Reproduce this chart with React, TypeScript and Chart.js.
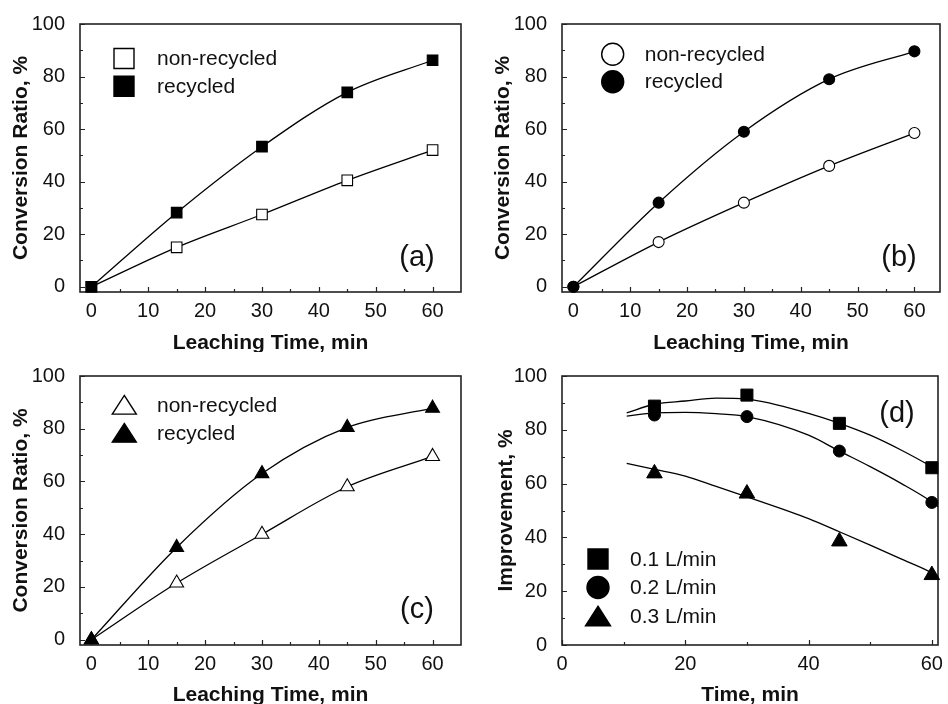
import React, { useEffect, useRef } from "react";
import { Chart, registerables } from "chart.js";
Chart.register(...registerables);

// ---------- data ----------
const TIME = [0, 15, 30, 45, 60];
const A_NONREC = [0, 15, 27.5, 40.5, 52];
const A_REC = [0, 28.2, 53.3, 74, 86.2];
const B_NONREC = [0, 17, 32, 46, 58.5];
const B_REC = [0, 32, 59, 79, 89.6];
const C_NONREC = [0, 21.5, 40, 58, 69.5];
const C_REC = [0, 35, 63, 80.5, 87.8];

const D_TIME = [15, 30, 45, 60];
const D_01 = [88.8, 92.9, 82.4, 65.9];
const D_02 = [85.5, 84.9, 72.1, 53.0];
const D_03 = [63.8, 56.3, 38.5, 26];

const FIT_X = [10.5, 15, 20, 25, 30, 40, 45, 50, 55, 60, 61];
const FIT_01 = [86.3, 89.5, 90.7, 91.8, 91.4, 86.1, 82.4, 78, 72.5, 66.3, 65];
const FIT_02 = [85.1, 86.3, 86.5, 86, 84.9, 78, 72.1, 66.3, 60.1, 53.2, 51.4];
const FIT_03 = [67.5, 65.3, 62.8, 59, 55.1, 47, 42.1, 37.1, 32, 26.8, 25.3];

const LEACH_X_TICKS = [0, 10, 20, 30, 40, 50, 60];
const LEACH_X_MINOR = [5, 15, 25, 35, 45, 55];
const TIME_X_TICKS = [0, 20, 40, 60];
const TIME_X_MINOR = [10, 30, 50];
const Y_TICKS = [0, 20, 40, 60, 80, 100];
const Y_MINOR = [10, 30, 50, 70, 90];

const LEGEND_ABC = ["non-recycled", "recycled"];
const LEGEND_D = ["0.1 L/min", "0.2 L/min", "0.3 L/min"];

const FONT = "'Liberation Sans', Arial, Helvetica, sans-serif";
const INK = "#111";

const pts = (xs: number[], ys: number[]) => xs.map((x, i) => ({ x, y: ys[i] }));

type Shape = "rect" | "circle" | "triangle";

function drawShape(ctx: CanvasRenderingContext2D, shape: Shape, cx: number, cy: number, w: number, filled: boolean) {
  ctx.beginPath();
  if (shape === "rect") ctx.rect(cx - w / 2, cy - w / 2, w, w);
  else if (shape === "circle") ctx.arc(cx, cy, w / 2, 0, Math.PI * 2);
  else {
    const h = w * 0.78;
    ctx.moveTo(cx, cy - h / 2);
    ctx.lineTo(cx + w / 2, cy + h / 2);
    ctx.lineTo(cx - w / 2, cy + h / 2);
    ctx.closePath();
  }
  ctx.fillStyle = filled ? "#000" : "#fff";
  ctx.fill();
  ctx.lineWidth = 1.4;
  ctx.strokeStyle = "#000";
  ctx.stroke();
}

type Panel = {
  left: number; top: number; w: number; h: number;
  pad: { left: number; top: number; right: number; bottom: number };
  yWidth: number; xHeight: number;
  xMin: number; xMax: number; yMin: number; yMax: number;
  xTicks: number[]; xMinor: number[];
  xTitle: string; yTitle: string; yTitlePad: number;
  datasets: any[];
  legend: { shape: Shape; filled: boolean; text: string; size: number }[];
  legendX: number; legendY: number; legendDy: number; legendTextX: number;
  label: string; labelX: number; labelY: number;
};

function lineDs(data: { x: number; y: number }[], shape: string, filled: boolean, r: number) {
  return {
    data,
    showLine: true,
    borderColor: "#000",
    borderWidth: 1.3,
    cubicInterpolationMode: "monotone",
    pointStyle: shape,
    pointRadius: r,
    pointBackgroundColor: filled ? "#000" : "#fff",
    pointBorderColor: "#000",
    pointBorderWidth: 1.1,
    clip: false,
  };
}
function markerDs(data: { x: number; y: number }[], shape: string, r: number) {
  return {
    data,
    showLine: false,
    pointStyle: shape,
    pointRadius: r,
    pointBackgroundColor: "#000",
    pointBorderColor: "#000",
    pointBorderWidth: 1,
    clip: false,
  };
}
function fitDs(data: { x: number; y: number }[]) {
  return {
    data,
    showLine: true,
    borderColor: "#000",
    borderWidth: 1.3,
    cubicInterpolationMode: "monotone",
    pointRadius: 0,
  };
}

const PANELS: Panel[] = [
  {
    left: 0, top: 0, w: 474, h: 352,
    pad: { left: 0, top: 24, right: 13, bottom: 0 }, yWidth: 80, xHeight: 60,
    xMin: -2, xMax: 65, yMin: -2, yMax: 100,
    xTicks: LEACH_X_TICKS, xMinor: LEACH_X_MINOR,
    xTitle: "Leaching Time, min", yTitle: "Conversion Ratio, %", yTitlePad: 9,
    datasets: [
      lineDs(pts(TIME, A_REC), "rect", true, 7.5),
      lineDs(pts(TIME, A_NONREC), "rect", false, 7.5),
    ],
    legend: [
      { shape: "rect", filled: false, text: LEGEND_ABC[0], size: 20 },
      { shape: "rect", filled: true, text: LEGEND_ABC[1], size: 20 },
    ],
    legendX: 44, legendY: 34.5, legendDy: 27.7, legendTextX: 77,
    label: "(a)", labelX: 337, labelY: 234,
  },
  {
    left: 474, top: 0, w: 474, h: 352,
    pad: { left: 0, top: 24, right: 8, bottom: 0 }, yWidth: 88, xHeight: 60,
    xMin: -2, xMax: 64.5, yMin: -2, yMax: 100,
    xTicks: LEACH_X_TICKS, xMinor: LEACH_X_MINOR,
    xTitle: "Leaching Time, min", yTitle: "Conversion Ratio, %", yTitlePad: 17,
    datasets: [
      lineDs(pts(TIME, B_REC), "circle", true, 5.5),
      lineDs(pts(TIME, B_NONREC), "circle", false, 5.5),
    ],
    legend: [
      { shape: "circle", filled: false, text: LEGEND_ABC[0], size: 22 },
      { shape: "circle", filled: true, text: LEGEND_ABC[1], size: 22 },
    ],
    legendX: 50.7, legendY: 30.3, legendDy: 27.4, legendTextX: 82.7,
    label: "(b)", labelX: 337, labelY: 234,
  },
  {
    left: 0, top: 352, w: 474, h: 352,
    pad: { left: 0, top: 24, right: 13, bottom: 0 }, yWidth: 80, xHeight: 59,
    xMin: -2, xMax: 65, yMin: -2, yMax: 100,
    xTicks: LEACH_X_TICKS, xMinor: LEACH_X_MINOR,
    xTitle: "Leaching Time, min", yTitle: "Conversion Ratio, %", yTitlePad: 9,
    datasets: [
      lineDs(pts(TIME, C_REC), "triangle", true, 8),
      lineDs(pts(TIME, C_NONREC), "triangle", false, 8),
    ],
    legend: [
      { shape: "triangle", filled: false, text: LEGEND_ABC[0], size: 24 },
      { shape: "triangle", filled: true, text: LEGEND_ABC[1], size: 24 },
    ],
    legendX: 44.3, legendY: 28.8, legendDy: 28, legendTextX: 77,
    label: "(c)", labelX: 337, labelY: 234,
  },
  {
    left: 474, top: 352, w: 474, h: 352,
    pad: { left: 0, top: 24, right: 6, bottom: 0 }, yWidth: 88, xHeight: 59,
    xMin: 0, xMax: 61, yMin: 0, yMax: 100,
    xTicks: TIME_X_TICKS, xMinor: TIME_X_MINOR,
    xTitle: "Time, min", yTitle: "Improvement, %", yTitlePad: 19.5,
    datasets: [
      fitDs(pts(FIT_X, FIT_01)),
      fitDs(pts(FIT_X, FIT_02)),
      fitDs(pts(FIT_X, FIT_03)),
      markerDs(pts(D_TIME, D_01), "rect", 8.5),
      markerDs(pts(D_TIME, D_02), "circle", 6),
      markerDs(pts(D_TIME, D_03), "triangle", 9),
    ],
    legend: [
      { shape: "rect", filled: true, text: LEGEND_D[0], size: 20 },
      { shape: "circle", filled: true, text: LEGEND_D[1], size: 22 },
      { shape: "triangle", filled: true, text: LEGEND_D[2], size: 25 },
    ],
    legendX: 36, legendY: 183, legendDy: 28.5, legendTextX: 68,
    label: "(d)", labelX: 335, labelY: 38,
  },
];

function makePlugin(p: Panel) {
  return {
    id: "panelDecor",
    beforeDatasetsDraw(chart: any) {
      const ctx: CanvasRenderingContext2D = chart.ctx;
      const { left, right, top, bottom } = chart.chartArea;
      const xs = chart.scales.x;
      const ys = chart.scales.y;
      ctx.save();
      ctx.strokeStyle = "#222";
      ctx.lineWidth = 1.2;
      ctx.beginPath();
      p.xTicks.forEach((v) => {
        const px = Math.round(xs.getPixelForValue(v)) + 0.5;
        ctx.moveTo(px, bottom); ctx.lineTo(px, bottom - 5);
      });
      p.xMinor.forEach((v) => {
        const px = Math.round(xs.getPixelForValue(v)) + 0.5;
        ctx.moveTo(px, bottom); ctx.lineTo(px, bottom - 3);
      });
      Y_TICKS.forEach((v) => {
        const py = Math.round(ys.getPixelForValue(v)) + 0.5;
        ctx.moveTo(left, py); ctx.lineTo(left + 5, py);
      });
      Y_MINOR.forEach((v) => {
        const py = Math.round(ys.getPixelForValue(v)) + 0.5;
        ctx.moveTo(left, py); ctx.lineTo(left + 3, py);
      });
      ctx.stroke();
      ctx.lineWidth = 1.6;
      ctx.strokeStyle = "#222";
      ctx.strokeRect(left, top, right - left, bottom - top);
      ctx.restore();
    },
    afterDraw(chart: any) {
      const ctx: CanvasRenderingContext2D = chart.ctx;
      const { left, top } = chart.chartArea;
      ctx.save();
      p.legend.forEach((it, i) => {
        const cy = top + p.legendY + i * p.legendDy;
        drawShape(ctx, it.shape, left + p.legendX, cy, it.size, it.filled);
        ctx.fillStyle = INK;
        ctx.font = `21px ${FONT}`;
        ctx.textAlign = "left";
        ctx.textBaseline = "middle";
        ctx.fillText(it.text, left + p.legendTextX, cy + 1);
      });
      ctx.font = `29px ${FONT}`;
      ctx.textAlign = "center";
      ctx.textBaseline = "middle";
      ctx.fillStyle = INK;
      ctx.fillText(p.label, left + p.labelX, top + p.labelY);
      ctx.restore();
    },
  };
}

function PanelChart({ p }: { p: Panel }) {
  const ref = useRef<HTMLCanvasElement | null>(null);
  useEffect(() => {
    if (!ref.current) return;
    const chart = new Chart(ref.current, {
      type: "scatter",
      data: { datasets: p.datasets },
      options: {
        animation: false,
        responsive: false,
        devicePixelRatio: 1,
        layout: { padding: p.pad },
        plugins: { legend: { display: false }, tooltip: { enabled: false } },
        scales: {
          x: {
            type: "linear",
            min: p.xMin,
            max: p.xMax,
            afterBuildTicks: (s: any) => { s.ticks = p.xTicks.map((v) => ({ value: v })); },
            afterFit: (s: any) => { s.height = p.xHeight; },
            grid: { display: false },
            border: { display: false },
            ticks: { color: INK, font: { family: FONT, size: 20 }, padding: -1, maxRotation: 0 },
            title: {
              display: true, text: p.xTitle, color: INK,
              font: { family: FONT, size: 21, weight: "bold" },
              padding: { top: 0, bottom: -4 },
            },
          },
          y: {
            type: "linear",
            min: p.yMin,
            max: p.yMax,
            afterBuildTicks: (s: any) => { s.ticks = Y_TICKS.map((v) => ({ value: v })); },
            afterFit: (s: any) => { s.width = p.yWidth; },
            grid: { display: false },
            border: { display: false },
            ticks: { color: INK, font: { family: FONT, size: 20 }, padding: 7 },
            title: {
              display: true, text: p.yTitle, color: INK,
              font: { family: FONT, size: 21, weight: "bold" },
              padding: { top: p.yTitlePad, bottom: 0 },
            },
          },
        },
      } as any,
      plugins: [makePlugin(p) as any],
    });
    return () => chart.destroy();
  }, [p]);
  return (
    <canvas
      ref={ref}
      width={p.w}
      height={p.h}
      style={{ position: "absolute", left: p.left, top: p.top, width: p.w, height: p.h }}
    />
  );
}

export default function App() {
  return (
    <div style={{ position: "absolute", left: 0, top: 0, width: 948, height: 704, background: "#fff" }}>
      {PANELS.map((p, i) => (
        <PanelChart key={i} p={p} />
      ))}
    </div>
  );
}
